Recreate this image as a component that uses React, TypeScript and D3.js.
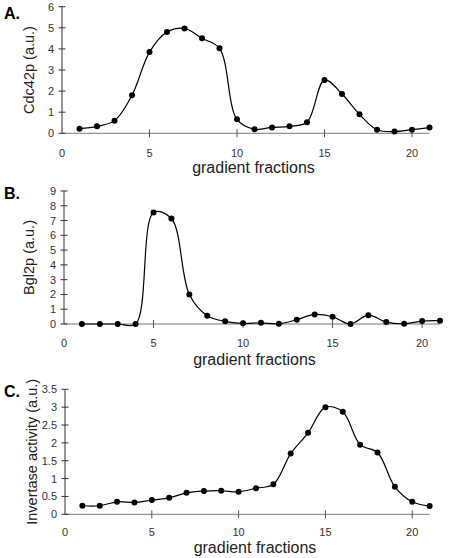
import React from "react";
import * as d3 from "d3";

const fractions = d3.range(1, 22);
const cdc42p = [0.22, 0.33, 0.6, 1.8, 3.85, 4.8, 4.97, 4.5, 4.03, 0.66, 0.19, 0.28, 0.33, 0.52, 2.53, 1.86, 0.9, 0.17, 0.08, 0.17, 0.27];
const bgl2p = [0, 0, 0, 0, 7.54, 7.14, 2.0, 0.56, 0.18, 0.05, 0.08, 0.02, 0.29, 0.65, 0.49, 0, 0.6, 0.13, 0.02, 0.2, 0.22];
const invertase = [0.24, 0.24, 0.35, 0.33, 0.4, 0.46, 0.6, 0.65, 0.66, 0.63, 0.73, 0.84, 1.7, 2.28, 3.0, 2.87, 1.95, 1.73, 0.77, 0.35, 0.23];

const xTicks = [0, 5, 10, 15, 20];
const yTicksA = [0, 1, 2, 3, 4, 5, 6];
const yTicksB = [0, 1, 2, 3, 4, 5, 6, 7, 8, 9];
const yTicksC = [0, 0.5, 1, 1.5, 2, 2.5, 3, 3.5];

type PanelProps = {
  letter: string;
  letterY: number;
  yLabel: string;
  yLabelX: number;
  values: number[];
  yTicks: number[];
  yMax: number;
  x0: number;
  x1: number;
  y0: number;
  y1: number;
  tickLabelY: number;
  titleY: number;
};

function Panel(p: PanelProps) {
  const x = d3.scaleLinear().domain([0, 21]).range([p.x0, p.x1]);
  const y = d3.scaleLinear().domain([0, p.yMax]).range([p.y0, p.y1]);
  const pts: [number, number][] = fractions.map((f, i) => [x(f), y(p.values[i])]);
  const line = d3.line().curve(d3.curveCatmullRom.alpha(0.5));
  const path = line(pts) || "";
  const font = "Liberation Sans, Arial, sans-serif";
  return (
    <g>
      <text x={4} y={p.letterY} fontFamily={font} fontWeight="bold" fontSize={16} fill="#000">
        {p.letter}
      </text>
      <text
        transform={`translate(${p.yLabelX},${(p.y0 + p.y1) / 2}) rotate(-90)`}
        textAnchor="middle"
        fontFamily={font}
        fontSize={14.5}
        fill="#222"
      >
        {p.yLabel}
      </text>
      <line x1={x(0)} x2={x(21)} y1={y(0)} y2={y(0)} stroke="#777" strokeWidth={1} />
      {xTicks.slice(1).map((t) => (
        <line key={"xt" + t} x1={x(t)} x2={x(t)} y1={y(0) - 4} y2={y(0) + 4} stroke="#555" strokeWidth={1} />
      ))}
      {xTicks.map((t) => (
        <text key={"xl" + t} x={x(t)} y={p.tickLabelY} textAnchor="middle" fontFamily={font} fontSize={11} fill="#333">
          {t}
        </text>
      ))}
      <line x1={x(0)} x2={x(0)} y1={y(0)} y2={y(p.yMax)} stroke="#333" strokeWidth={1} />
      {p.yTicks.map((t) => (
        <g key={"yt" + t}>
          <line x1={x(0) - 3.5} x2={x(0) + 3.5} y1={y(t)} y2={y(t)} stroke="#333" strokeWidth={1} />
          <text x={x(0) - 8} y={y(t) + 4} textAnchor="end" fontFamily={font} fontSize={11} fill="#333">
            {t}
          </text>
        </g>
      ))}
      <text x={(p.x0 + 429) / 2 + 8} y={p.titleY} textAnchor="middle" fontFamily={font} fontSize={16} fill="#222">
        gradient fractions
      </text>
      <path d={path} fill="none" stroke="#000" strokeWidth={1.2} />
      {pts.map((pt, i) => (
        <circle key={"pt" + i} cx={pt[0]} cy={pt[1]} r={3} fill="#000" />
      ))}
    </g>
  );
}

export default function App() {
  return (
    <svg width={453} height={558} style={{ display: "block", position: "absolute", left: 0, top: 0 }}>
      <rect width={453} height={558} fill="#fff" />
      <Panel
        letter="A."
        letterY={19}
        yLabel="Cdc42p (a.u.)"
        yLabelX={34}
        values={cdc42p}
        yTicks={yTicksA}
        yMax={6}
        x0={62}
        x1={429.5}
        y0={133.3}
        y1={6.7}
        tickLabelY={157}
        titleY={172.5}
      />
      <Panel
        letter="B."
        letterY={199}
        yLabel="Bgl2p (a.u.)"
        yLabelX={34}
        values={bgl2p}
        yTicks={yTicksB}
        yMax={9}
        x0={64}
        x1={440}
        y0={324}
        y1={191}
        tickLabelY={347}
        titleY={365}
      />
      <Panel
        letter="C."
        letterY={397}
        yLabel="Invertase activity (a.u.)"
        yLabelX={37}
        values={invertase}
        yTicks={yTicksC}
        yMax={3.5}
        x0={65}
        x1={429.6}
        y0={514.3}
        y1={389.3}
        tickLabelY={536}
        titleY={552.5}
      />
    </svg>
  );
}
